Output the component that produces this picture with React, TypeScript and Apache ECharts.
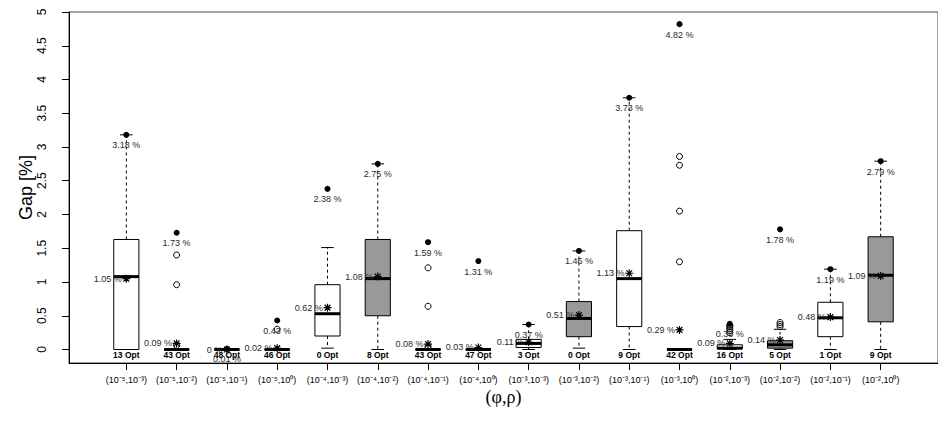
import { useEffect, useRef } from "react";
import * as echarts from "echarts";

// Parameter pairs (φ, ρ) on the horizontal axis
const categories = [
  "(10⁻⁵,10⁻³)", "(10⁻⁵,10⁻²)", "(10⁻⁵,10⁻¹)", "(10⁻⁵,10⁰)",
  "(10⁻⁴,10⁻³)", "(10⁻⁴,10⁻²)", "(10⁻⁴,10⁻¹)", "(10⁻⁴,10⁰)",
  "(10⁻³,10⁻³)", "(10⁻³,10⁻²)", "(10⁻³,10⁻¹)", "(10⁻³,10⁰)",
  "(10⁻²,10⁻³)", "(10⁻²,10⁻²)", "(10⁻²,10⁻¹)", "(10⁻²,10⁰)",
];

// Number of instances solved to optimality per setting
const optCounts = [13, 43, 48, 46, 0, 8, 43, 47, 3, 0, 9, 42, 16, 5, 1, 9];

// Box statistics (gap in %)
const lowerWhisker = [0, 0, 0, 0, 0.02, 0, 0, 0, 0, 0.02, 0, 0, 0, 0, 0, 0];
const q1 = [0, 0, 0, 0, 0.2, 0.5, 0, 0, 0.03, 0.19, 0.34, 0, 0.01, 0.02, 0.19, 0.41];
const medians = [1.08, 0, 0, 0, 0.53, 1.05, 0, 0, 0.09, 0.46, 1.05, 0, 0.02, 0.07, 0.47, 1.1];
const q3 = [1.63, 0, 0, 0, 0.96, 1.63, 0, 0, 0.15, 0.71, 1.76, 0, 0.07, 0.13, 0.7, 1.67];
const upperWhisker = [3.18, 0, 0, 0, 1.51, 2.75, 0, 0, 0.37, 1.46, 3.73, 0, 0.15, 0.3, 1.19, 2.79];

// Mean and maximum gap per setting
const means = [1.05, 0.09, 0, 0.02, 0.62, 1.08, 0.08, 0.03, 0.11, 0.51, 1.13, 0.29, 0.09, 0.14, 0.48, 1.09];
const maxima = [3.18, 1.73, 0.01, 0.43, 2.38, 2.75, 1.59, 1.31, 0.37, 1.46, 3.73, 4.82, 0.38, 1.78, 1.19, 2.79];

// Outlying observations
const outliers: number[][] = [
  [],
  [1.4, 0.96, 0.06],
  [],
  [0.3],
  [],
  [],
  [1.21, 0.64, 0.04],
  [],
  [],
  [],
  [],
  [2.86, 2.73, 2.05, 1.3],
  [0.25, 0.28, 0.31, 0.34, 0.36],
  [0.34, 0.37, 0.4],
  [],
  [],
];

const yTicks = [0, 0.5, 1, 1.5, 2, 2.5, 3, 3.5, 4, 4.5, 5];
const xTicks = categories.map((_, i) => i + 1);

const fmtPct = (v: number) => `${Math.round(v * 100) / 100} %`;

const ASTERISK =
  "path://M0,-5L0,5M-5,0L5,0M-3.6,-3.6L3.6,3.6M-3.6,3.6L3.6,-3.6";

export default function App() {
  const ref = useRef<HTMLDivElement>(null);

  useEffect(() => {
    if (!ref.current) return;
    const chart = echarts.init(ref.current, null, { renderer: "svg" });

    const boxData = categories.map((_, i) => [
      i + 1,
      lowerWhisker[i],
      q1[i],
      medians[i],
      q3[i],
      upperWhisker[i],
      optCounts[i],
    ]);

    const outlierData: number[][] = [];
    outliers.forEach((vals, i) => vals.forEach((v) => outlierData.push([i + 1, v])));

    const renderBox = (params: any, api: any) => {
      const x = api.value(0);
      const lo = api.value(1);
      const b1 = api.value(2);
      const md = api.value(3);
      const b3 = api.value(4);
      const hi = api.value(5);
      const n = api.value(6);
      const halfBox = 0.25;
      const halfCap = 0.125;
      const [xl, yB3] = api.coord([x - halfBox, b3]);
      const [xr, yB1] = api.coord([x + halfBox, b1]);
      const [xc, yMd] = api.coord([x, md]);
      const yLo = api.coord([x, lo])[1];
      const yHi = api.coord([x, hi])[1];
      const cl = api.coord([x - halfCap, 0])[0];
      const cr = api.coord([x + halfCap, 0])[0];
      const y0 = api.coord([x, 0])[1];
      const fill = params.dataIndex % 2 === 0 ? "#ffffff" : "#999999";
      const dashed = { stroke: "#000", lineWidth: 1, lineDash: [3, 3] };
      const solid = { stroke: "#000", lineWidth: 1 };
      return {
        type: "group",
        children: [
          { type: "line", shape: { x1: xc, y1: yB3, x2: xc, y2: yHi }, style: dashed },
          { type: "line", shape: { x1: xc, y1: yB1, x2: xc, y2: yLo }, style: dashed },
          { type: "line", shape: { x1: cl, y1: yHi, x2: cr, y2: yHi }, style: solid },
          { type: "line", shape: { x1: cl, y1: yLo, x2: cr, y2: yLo }, style: solid },
          {
            type: "rect",
            shape: { x: xl, y: yB3, width: xr - xl, height: yB1 - yB3 },
            style: { fill, stroke: "#000", lineWidth: 1 },
          },
          { type: "line", shape: { x1: xl, y1: yMd, x2: xr, y2: yMd }, style: { stroke: "#000", lineWidth: 3 } },
          {
            type: "text",
            x: xc,
            y: y0 + 1,
            style: {
              text: `${n} Opt`,
              fontFamily: "Liberation Sans",
              fontWeight: "bold",
              fontSize: 8.5,
              fill: "#000",
              align: "center",
              verticalAlign: "top",
            },
          },
        ],
      };
    };

    const valueLabel = {
      show: true,
      formatter: (p: any) => fmtPct(p.value[1]),
      fontSize: 9,
      color: "#2a2a2a",
      textBorderWidth: 0,
    };

    chart.setOption({
      animation: false,
      textStyle: { fontFamily: "Liberation Sans" },
      grid: {
        left: 69,
        top: 12,
        right: -12,
        bottom: 59,
        show: true,
        borderColor: "#444",
        borderWidth: 1,
      },
      xAxis: {
        type: "value",
        min: -0.14,
        max: 17.14,
        splitLine: { show: false },
        axisLine: { show: true, onZero: false, lineStyle: { color: "#000", width: 1 } },
        axisTick: { show: true, customValues: xTicks, length: 7, lineStyle: { color: "#000" } },
        axisLabel: {
          customValues: xTicks,
          formatter: (v: number) => categories[Math.round(v) - 1] ?? "",
          fontSize: 9,
          color: "#000",
          margin: 12,
        },
        name: "(φ,ρ)",
        nameLocation: "middle",
        nameGap: 25,
        nameMoveOverlap: false,
        nameTextStyle: { fontFamily: "Liberation Serif", fontSize: 18, color: "#000" },
      },
      yAxis: {
        type: "value",
        min: -0.2,
        max: 5,
        splitLine: { show: false },
        axisLine: { show: true, onZero: false, lineStyle: { color: "#000", width: 1 } },
        axisTick: { show: true, customValues: yTicks, length: 7, lineStyle: { color: "#000" } },
        axisLabel: {
          customValues: yTicks,
          rotate: 90,
          formatter: (v: number) => String(v),
          fontSize: 12,
          color: "#000",
          margin: 21,
        },
        name: "Gap [%]",
        nameLocation: "middle",
        nameRotate: 90,
        nameGap: 34,
        nameMoveOverlap: false,
        nameTextStyle: { fontSize: 18, color: "#000" },
      },
      series: [
        {
          type: "custom",
          renderItem: renderBox,
          data: boxData,
          encode: { x: 0, y: [1, 2, 3, 4, 5] },
          z: 2,
        },
        {
          type: "scatter",
          data: outlierData,
          symbol: "circle",
          symbolSize: 6,
          itemStyle: { color: "transparent", borderColor: "#000", borderWidth: 1, opacity: 1 },
          z: 3,
        },
        {
          type: "scatter",
          data: maxima.map((v, i) => [i + 1, v]),
          symbol: "circle",
          symbolSize: 6,
          itemStyle: { color: "#000", opacity: 1 },
          label: { ...valueLabel, position: "bottom", distance: 3 },
          z: 4,
        },
        {
          type: "scatter",
          data: means.map((v, i) => [i + 1, v]),
          symbol: ASTERISK,
          symbolSize: 8,
          itemStyle: { color: "transparent", borderColor: "#000", borderWidth: 1.2, opacity: 1 },
          label: { ...valueLabel, position: "left", distance: 0 },
          z: 5,
        },
      ],
    });

    return () => chart.dispose();
  }, []);

  return (
    <div
      ref={ref}
      style={{ position: "absolute", left: 0, top: 0, width: 938, height: 422, background: "#fff" }}
    />
  );
}
